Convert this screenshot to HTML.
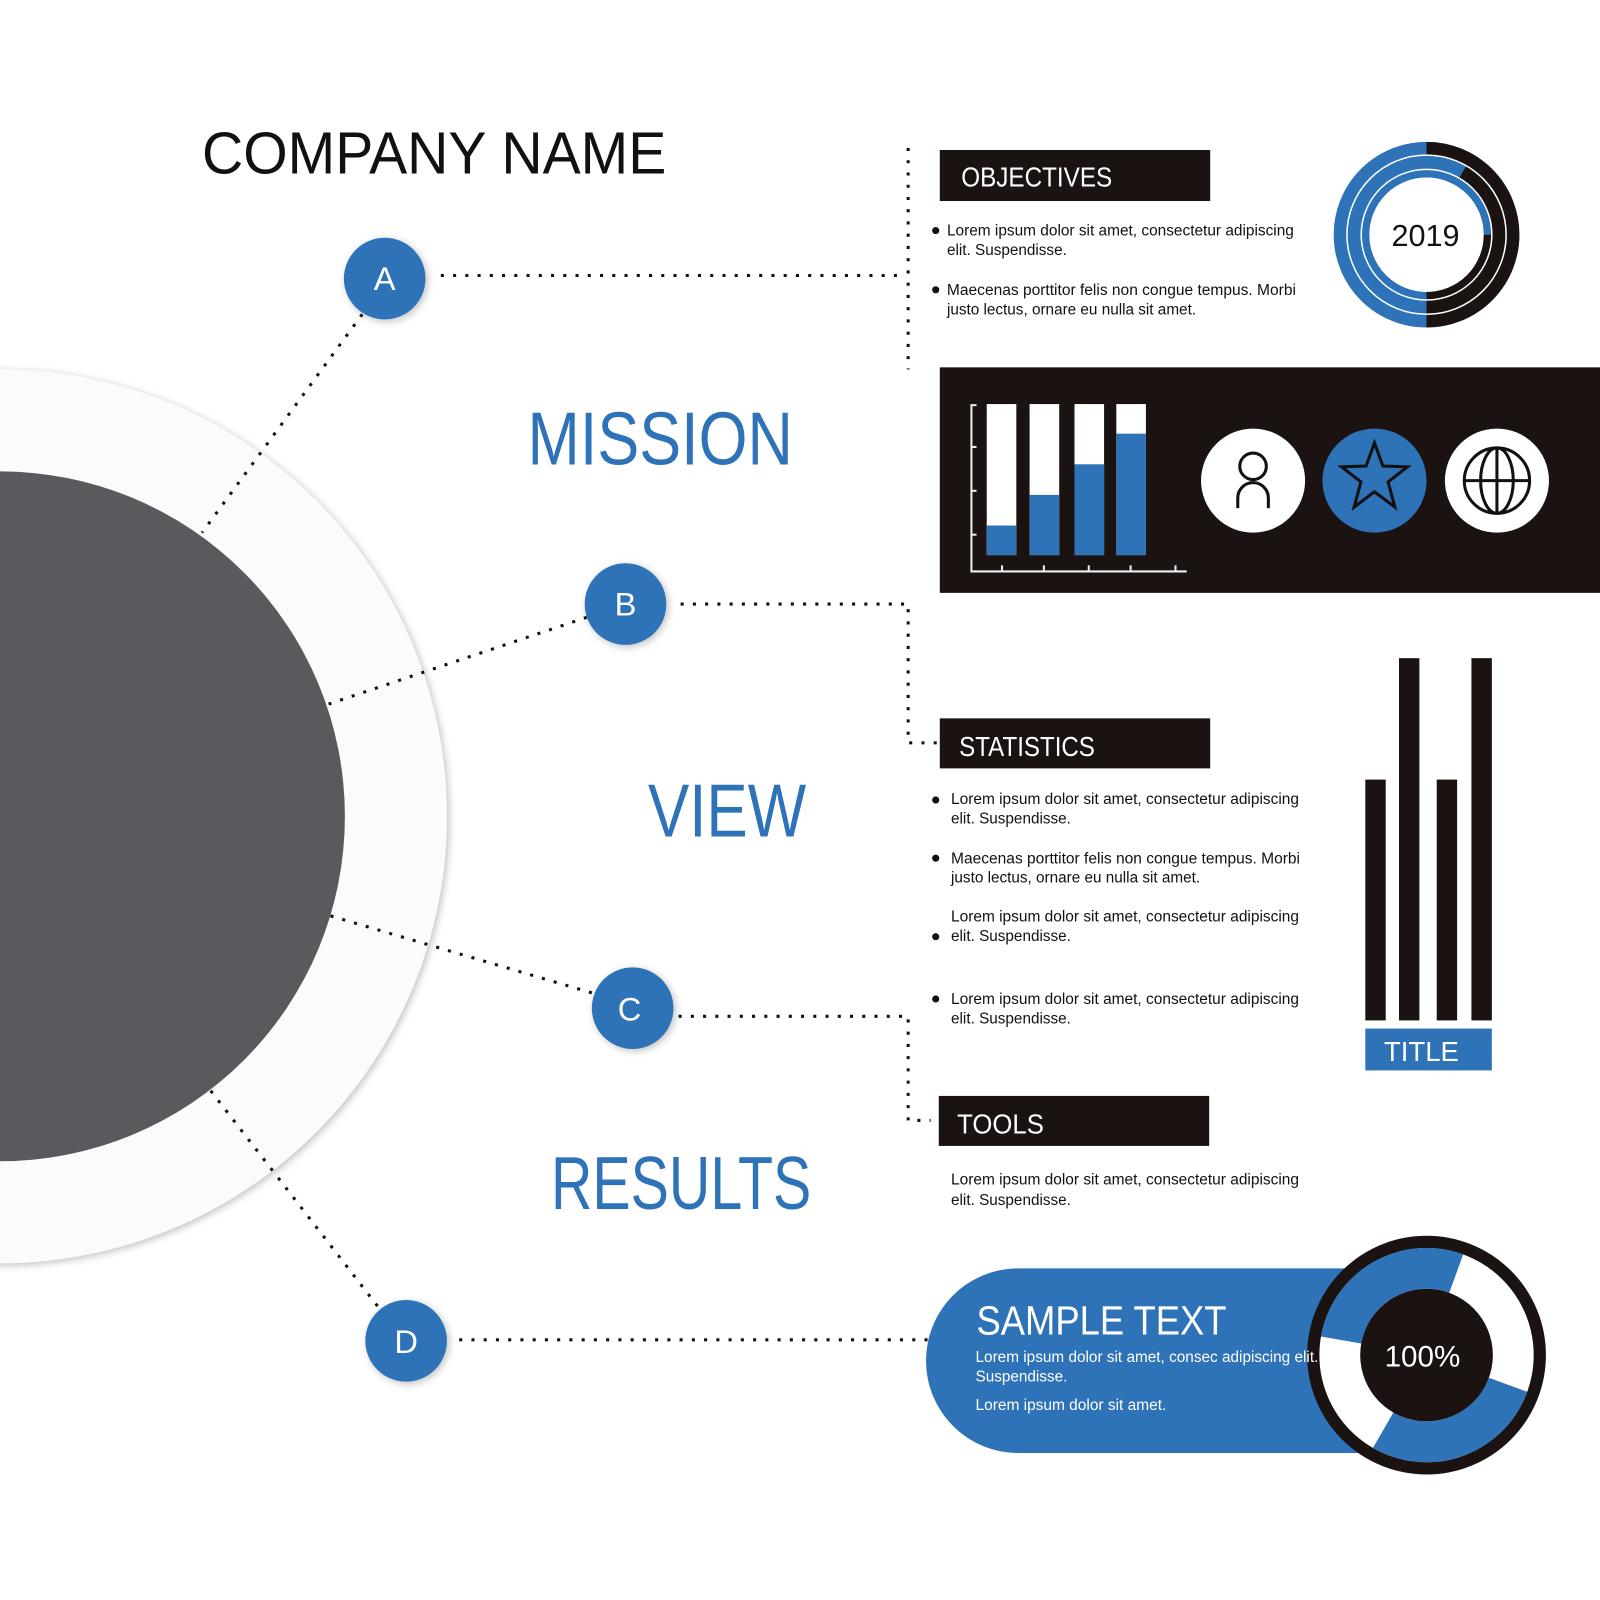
<!DOCTYPE html>
<html><head><meta charset="utf-8">
<style>
html,body{margin:0;padding:0;background:#fff;}
svg{display:block;}
text{font-family:"Liberation Sans",sans-serif;}
</style></head>
<body>
<svg width="1600" height="1600" viewBox="0 0 1568 1568" xmlns="http://www.w3.org/2000/svg">
<defs>
<filter id="sh" x="-20%" y="-20%" width="140%" height="140%">
<feGaussianBlur in="SourceAlpha" stdDeviation="4"/>
<feOffset dx="2" dy="2"/>
<feComponentTransfer><feFuncA type="linear" slope="0.25"/></feComponentTransfer>
<feMerge><feMergeNode/><feMergeNode in="SourceGraphic"/></feMerge>
</filter>
</defs>
<rect width="1568" height="1568" fill="#fff"/>

<!-- big circles -->
<circle cx="0" cy="800" r="438" fill="#fcfbfb" filter="url(#sh)"/>
<circle cx="0" cy="800" r="338" fill="#5a595e"/>

<!-- dotted connectors -->
<g stroke="#111" stroke-width="3" stroke-dasharray="3 9" fill="none">
<line x1="355" y1="308" x2="198" y2="522"/>
<line x1="575" y1="605" x2="322" y2="690"/>
<line x1="580" y1="973" x2="322" y2="897"/>
<line x1="370" y1="1280" x2="205" y2="1067"/>
<line x1="432" y1="270" x2="885" y2="270"/>
<line x1="890" y1="145" x2="890" y2="362"/>
<polyline points="667,592 890,592 890,728 920,728"/>
<polyline points="665,996 890,996 890,1098 912,1098"/>
<line x1="450" y1="1313" x2="910" y2="1313"/>
</g>

<!-- nodes -->
<g filter="url(#sh)" fill="#2e72b8">
<circle cx="377" cy="273" r="40"/>
<circle cx="613" cy="592" r="40"/>
<circle cx="620" cy="988" r="40"/>
<circle cx="398" cy="1314" r="40"/>
</g>
<g fill="#fff" font-size="32" text-anchor="middle">
<text x="377" y="284">A</text>
<text x="613" y="603">B</text>
<text x="617" y="1000">C</text>
<text x="398" y="1326">D</text>
</g>

<!-- titles -->
<text x="198" y="170" font-size="58" fill="#111" textLength="455" lengthAdjust="spacingAndGlyphs">COMPANY NAME</text>
<g fill="#2e72b8" font-size="74">
<text x="517" y="455" textLength="260" lengthAdjust="spacingAndGlyphs">MISSION</text>
<text x="635" y="820" textLength="155" lengthAdjust="spacingAndGlyphs">VIEW</text>
<text x="540" y="1185" textLength="255" lengthAdjust="spacingAndGlyphs">RESULTS</text>
</g>

<!-- objectives -->
<rect x="921" y="147" width="265" height="50" fill="#1a1311"/>
<text x="942" y="183" font-size="27" fill="#fff" textLength="148" lengthAdjust="spacingAndGlyphs">OBJECTIVES</text>
<g font-size="15" fill="#111">
<circle cx="917" cy="226" r="3.5"/>
<text x="928" y="231" textLength="340" lengthAdjust="spacingAndGlyphs">Lorem ipsum dolor sit amet, consectetur adipiscing</text>
<text x="928" y="250">elit. Suspendisse.</text>
<circle cx="917" cy="284" r="3.5"/>
<text x="928" y="289" textLength="342" lengthAdjust="spacingAndGlyphs">Maecenas porttitor felis non congue tempus. Morbi</text>
<text x="928" y="308">justo lectus, ornare eu nulla sit amet.</text>
</g>

<!-- 2019 donut -->
<g fill="none">
<circle cx="1398" cy="230" r="84.5" stroke="#2e72b8" stroke-width="13"/>
<circle cx="1398" cy="230" r="71" stroke="#2e72b8" stroke-width="14"/>
<circle cx="1398" cy="230" r="60" stroke="#2e72b8" stroke-width="8"/>
<path d="M1398 145.5 A84.5 84.5 0 0 1 1398 314.5" stroke="#1a1311" stroke-width="13"/>
<path d="M1433.5 168.5 A71 71 0 0 1 1398 301" stroke="#1a1311" stroke-width="14"/>
<path d="M1458 230 A60 60 0 0 1 1398 290" stroke="#1a1311" stroke-width="8"/>
<circle cx="1398" cy="230" r="78" stroke="#fff" stroke-width="1.5"/>
<circle cx="1398" cy="230" r="64" stroke="#fff" stroke-width="1.5"/>
</g>
<circle cx="1398" cy="230" r="56" fill="#fff"/>
<text x="1397" y="241" font-size="30" fill="#111" text-anchor="middle">2019</text>

<!-- dark panel -->
<rect x="921" y="360" width="647" height="221" fill="#1a1311"/>
<g stroke="#eee" stroke-width="2" fill="none">
<polyline points="957,397 952,397 952,560 1163,560"/>
<line x1="952" y1="438" x2="957" y2="438"/>
<line x1="952" y1="481" x2="957" y2="481"/>
<line x1="952" y1="524" x2="957" y2="524"/>
<line x1="982" y1="560" x2="982" y2="554"/>
<line x1="1023" y1="560" x2="1023" y2="554"/>
<line x1="1067" y1="560" x2="1067" y2="554"/>
<line x1="1108" y1="560" x2="1108" y2="554"/>
<line x1="1152" y1="560" x2="1152" y2="554"/>
</g>
<g fill="#fff">
<rect x="967" y="396" width="29" height="148"/>
<rect x="1009" y="396" width="29" height="148"/>
<rect x="1053" y="396" width="29" height="148"/>
<rect x="1094" y="396" width="29" height="148"/>
</g>
<g fill="#2e72b8">
<rect x="967" y="515" width="29" height="29"/>
<rect x="1009" y="485" width="29" height="59"/>
<rect x="1053" y="455" width="29" height="89"/>
<rect x="1094" y="425" width="29" height="119"/>
</g>
<circle cx="1228" cy="471" r="51" fill="#fff"/>
<circle cx="1347" cy="471" r="51" fill="#2e72b8"/>
<circle cx="1467" cy="471" r="51" fill="#fff"/>
<g stroke="#111" stroke-width="3" fill="none">
<circle cx="1228" cy="457" r="13"/>
<path d="M1213 498 V488 A15 15 0 0 1 1243 488 V498"/>
<polygon points="1347,434 1355.2,456.7 1379.3,457.5 1360.3,472.3 1367,497 1347,482 1327,497 1333.7,472.3 1314.7,457.5 1338.8,456.7"/>
<circle cx="1467" cy="471" r="32"/>
<ellipse cx="1467" cy="471" rx="16" ry="32"/>
<line x1="1467" y1="439" x2="1467" y2="503"/>
<line x1="1435" y1="471" x2="1499" y2="471"/>
</g>

<!-- statistics -->
<rect x="921" y="704" width="265" height="49" fill="#1a1311"/>
<text x="940" y="741" font-size="27" fill="#fff" textLength="133" lengthAdjust="spacingAndGlyphs">STATISTICS</text>
<g font-size="15" fill="#111">
<circle cx="917" cy="784" r="3.5"/>
<text x="932" y="788" textLength="341" lengthAdjust="spacingAndGlyphs">Lorem ipsum dolor sit amet, consectetur adipiscing</text>
<text x="932" y="807">elit. Suspendisse.</text>
<circle cx="917" cy="841" r="3.5"/>
<text x="932" y="846" textLength="342" lengthAdjust="spacingAndGlyphs">Maecenas porttitor felis non congue tempus. Morbi</text>
<text x="932" y="865">justo lectus, ornare eu nulla sit amet.</text>
<text x="932" y="903" textLength="341" lengthAdjust="spacingAndGlyphs">Lorem ipsum dolor sit amet, consectetur adipiscing</text>
<circle cx="917" cy="918" r="3.5"/>
<text x="932" y="922">elit. Suspendisse.</text>
<circle cx="917" cy="979" r="3.5"/>
<text x="932" y="984" textLength="341" lengthAdjust="spacingAndGlyphs">Lorem ipsum dolor sit amet, consectetur adipiscing</text>
<text x="932" y="1003">elit. Suspendisse.</text>
</g>

<!-- tall bars -->
<g fill="#1a1311">
<rect x="1338" y="764" width="20" height="236"/>
<rect x="1371" y="645" width="20" height="355"/>
<rect x="1408" y="764" width="20" height="236"/>
<rect x="1442" y="645" width="20" height="355"/>
</g>
<rect x="1338" y="1008" width="124" height="41" fill="#2e72b8"/>
<text x="1393" y="1040" font-size="27" fill="#fff" text-anchor="middle">TITLE</text>

<!-- tools -->
<rect x="920" y="1074" width="265" height="49" fill="#1a1311"/>
<text x="938" y="1111" font-size="27" fill="#fff" textLength="85" lengthAdjust="spacingAndGlyphs">TOOLS</text>
<g font-size="15" fill="#111">
<text x="932" y="1161" textLength="341" lengthAdjust="spacingAndGlyphs">Lorem ipsum dolor sit amet, consectetur adipiscing</text>
<text x="932" y="1181">elit. Suspendisse.</text>
</g>

<!-- sample pill -->
<path d="M998 1243 H1400 V1424 H998 A90.5 90.5 0 0 1 998 1243 Z" fill="#2e72b8"/>
<circle cx="1398" cy="1328" r="111" fill="#fff" stroke="#1a1311" stroke-width="12"/>
<g fill="none" stroke="#2e72b8" stroke-width="40">
<path d="M1314.3 1313.2 A85 85 0 0 1 1427.1 1248.1"/>
<path d="M1477.9 1357.1 A85 85 0 0 1 1355.5 1401.6"/>
</g>
<circle cx="1398" cy="1328" r="65" fill="#1a1311"/>
<text x="1394" y="1339" font-size="29" fill="#fff" text-anchor="middle">100%</text>
<text x="957" y="1308" font-size="40" fill="#fff" textLength="245" lengthAdjust="spacingAndGlyphs">SAMPLE TEXT</text>
<g font-size="15" fill="#fff">
<text x="956" y="1335" textLength="336" lengthAdjust="spacingAndGlyphs">Lorem ipsum dolor sit amet, consec adipiscing elit.</text>
<text x="956" y="1354">Suspendisse.</text>
<text x="956" y="1382" textLength="187" lengthAdjust="spacingAndGlyphs">Lorem ipsum dolor sit amet.</text>
</g>
</svg>
</body></html>
